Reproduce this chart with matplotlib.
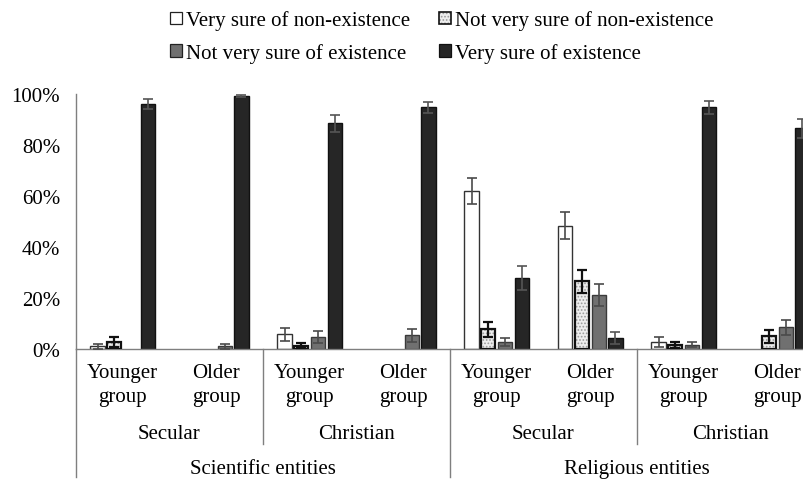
import numpy as np
import matplotlib
matplotlib.use("Agg")
import matplotlib.pyplot as plt
from matplotlib.patches import Patch
from matplotlib.legend_handler import HandlerTuple

plt.rcParams['font.family'] = ['Liberation Serif', 'DejaVu Serif']
plt.rcParams['hatch.linewidth'] = 0.8

# x categories, left to right
age_groups = ["Younger\ngroup", "Older\ngroup"] * 4
religions = ["Secular", "Christian", "Secular", "Christian"]
entities = ["Scientific entities", "Religious entities"]

series = ["Very sure of non-existence", "Not very sure of non-existence",
          "Not very sure of existence", "Very sure of existence"]

# percentages per category (8 categories) for each response
very_sure_non = [1.0, 0.0, 5.8, 0.0, 62.0, 48.4, 2.6, 0.0]
not_sure_non = [2.9, 0.0, 1.3, 0.0, 7.7, 26.5, 1.6, 5.0]
not_sure_exist = [0.0, 1.0, 4.7, 5.4, 2.6, 21.0, 1.6, 8.5]
very_sure_exist = [96.2, 99.3, 88.5, 94.8, 27.8, 4.3, 94.8, 86.5]

err_very_sure_non = [1.0, 0.0, 2.5, 0.0, 5.1, 5.2, 2.0, 0.0]
err_not_sure_non = [2.0, 0.0, 1.0, 0.0, 3.0, 4.6, 1.3, 2.6]
err_not_sure_exist = [0.0, 1.0, 2.2, 2.6, 1.6, 4.3, 1.0, 3.0]
err_very_sure_exist = [2.0, 0.5, 3.4, 2.1, 4.7, 2.2, 2.5, 3.6]

values = [very_sure_non, not_sure_non, not_sure_exist, very_sure_exist]
errors = [err_very_sure_non, err_not_sure_non, err_not_sure_exist, err_very_sure_exist]

W, H = 804, 481
fig = plt.figure(figsize=(W / 100, H / 100), dpi=100)
ax = fig.add_axes([76 / W, 1 - 350 / H, 748 / W, 255 / H])

x = np.arange(len(very_sure_exist)) + 0.5
step, width = 0.18, 0.15
offsets = (np.arange(4) - 1.5) * step

face = ['white', '#ededed', '#707070', '#262626']
edge = ['#333333', '#111111', '#3a3a3a', '#111111']
errc = ['#4a4a4a', '#111111', '#4a4a4a', '#555555']

for k in range(4):
    v = np.array(values[k])
    e = np.array(errors[k])
    xs = x + offsets[k]
    m = v > 0  # empty cells get no bar at all
    if k == 1:
        # stippled fill, then a bold outline on top
        ax.bar(xs[m], v[m], width, color=face[k], edgecolor='#9a9a9a', hatch='.....',
               linewidth=0, zorder=2)
        ax.bar(xs[m], v[m], width, fill=False, edgecolor=edge[k], linewidth=1.6, zorder=3)
        lw = 1.6
    else:
        ax.bar(xs[m], v[m], width, color=face[k], edgecolor=edge[k], linewidth=1.0, zorder=2)
        lw = 1.2
    m = e > 0
    ax.errorbar(xs[m], v[m], yerr=e[m], fmt='none', ecolor=errc[k],
                elinewidth=lw, capsize=3.6, capthick=lw, zorder=4)

ax.set_xlim(0, 8)
ax.set_ylim(0, 100)
ax.set_yticks(np.arange(0, 101, 20))
ax.set_yticklabels([f"{t}%" for t in range(0, 101, 20)], fontsize=15)
ax.tick_params(axis='y', length=0, pad=11.5)
ax.set_xticks([])
for s in ['top', 'right']:
    ax.spines[s].set_visible(False)
for s in ['left', 'bottom']:
    ax.spines[s].set_color('#7f7f7f')
    ax.spines[s].set_linewidth(1.0)

# multi-level category axis
tr = ax.get_xaxis_transform()
for i, lab in enumerate(age_groups):
    ax.text(x[i], -0.14, lab, transform=tr, ha='center', va='center',
            fontsize=15, linespacing=1.35)
for j, lab in enumerate(religions):
    ax.text(2 * j + 1, -0.33, lab, transform=tr, ha='center', va='center', fontsize=15)
for j, lab in enumerate(entities):
    ax.text(4 * j + 2, -0.468, lab, transform=tr, ha='center', va='center', fontsize=15)

for xv in [2, 6]:
    ax.plot([xv, xv], [0, -0.3725], transform=tr, color='#7f7f7f', lw=1.0, clip_on=False)
for xv in [0, 4, 8]:
    ax.plot([xv, xv], [0, -0.502], transform=tr, color='#7f7f7f', lw=1.0, clip_on=False)

# legend: two rows, two columns
h_vsn = Patch(facecolor=face[0], edgecolor='#222222', linewidth=0.9)
h_nsn = (Patch(facecolor=face[1], edgecolor='#9a9a9a', hatch='.....', linewidth=0),
         Patch(fill=False, edgecolor='#111111', linewidth=1.2))
h_nse = Patch(facecolor=face[2], edgecolor='#222222', linewidth=0.9)
h_vse = Patch(facecolor=face[3], edgecolor='#111111', linewidth=0.9)
fig.legend([h_vsn, h_nse, h_nsn, h_vse],
           [series[0], series[2], series[1], series[3]],
           handler_map={tuple: HandlerTuple(ndivide=1, pad=0)},
           ncol=2, loc='upper left', bbox_to_anchor=(160 / W, 1 - 1 / H),
           frameon=False, fontsize=15, handlelength=0.55, handleheight=0.55,
           handletextpad=0.2, columnspacing=1.4, labelspacing=0.6, borderpad=0)

fig.savefig("out.png", dpi=100, facecolor='white')
